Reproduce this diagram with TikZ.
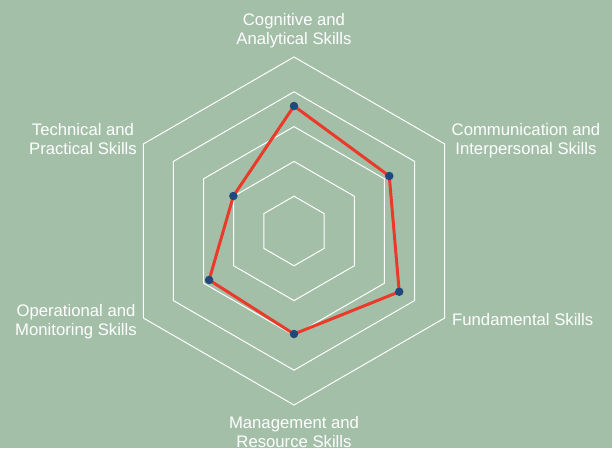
\documentclass[tikz,border=0pt]{standalone}
\usepackage{fontspec}
\setmainfont{Liberation Sans}
\definecolor{chartbg}{RGB}{163,191,168}
\definecolor{lineRed}{RGB}{236,58,42}
\definecolor{dotBlue}{RGB}{31,73,125}
\tikzset{>=latex}
\tikzset{
  ring/.style={draw=white,line width=1pt},
  skill/.style={text=white,inner sep=0pt,align=center,font=\fontsize{16.7}{18.8}\selectfont},
  score/.style={circle,fill=dotBlue,inner sep=0pt,minimum size=8.5pt},
}

\begin{document}
\begin{tikzpicture}[x=1pt,y=1pt]
  \fill[chartbg] (-294,-217) rectangle (318,231);
  \useasboundingbox (-294,-217) rectangle (318,231);
  \foreach \r in {34.8,69.6,104.4,139.2,174}
    \draw[ring] (90:\r) -- (30:\r) -- (-30:\r) -- (-90:\r) -- (-150:\r) -- (150:\r) -- cycle;
  \coordinate (cog) at (90:125);
  \coordinate (com) at (30:110);
  \coordinate (fun) at (-30:121.5);
  \coordinate (man) at (-90:103);
  \coordinate (ope) at (-150:98);
  \coordinate (tec) at (150:70);
  \draw[lineRed,line width=3pt,line join=round] (cog) -- (com) -- (fun) -- (man) -- (ope) -- (tec) -- cycle;
  \foreach \p in {cog,com,fun,man,ope,tec}
    \node[score] (\p-dot) at (\p) {};
  \node[skill] (cog-label) at (0,200) {Cognitive and\\Analytical Skills};
  \node[skill,anchor=west] (com-label) at (157.5,90) {Communication and\\Interpersonal Skills};
  \node[skill,anchor=west] (fun-label) at (158,-88.6) {Fundamental Skills};
  \node[skill] (man-label) at (0,-201.1) {Management and\\Resource Skills};
  \node[skill,anchor=east] (ope-label) at (-157,-91) {Operational and\\Monitoring Skills};
  \node[skill,anchor=east] (tec-label) at (-157,91.7) {Technical and\\Practical Skills};
\end{tikzpicture}
\end{document}
